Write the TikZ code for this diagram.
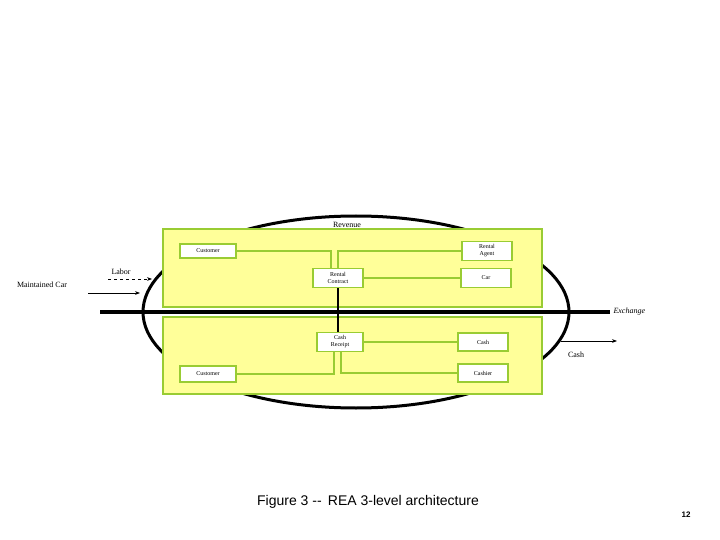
\documentclass[tikz,border=0pt]{standalone}
\usepackage{fontspec}
\setmainfont{Liberation Serif}
\newfontfamily\arialfont{Liberation Sans}
\usetikzlibrary{positioning,arrows.meta}
\definecolor{boxfill}{HTML}{FFFF99}
\definecolor{boxline}{HTML}{99CC33}
\tikzset{
    layer/.style={
        draw=boxline,
        fill=boxfill,
        line width=2.5pt
    },
    entity/.style={
        draw=boxline,
        fill=white,
        line width=1.2pt,
        align=center,
        font=\fontsize{6}{7}\selectfont,
        inner sep=1pt
    },
    link/.style={
        boxline,
        line width=1.5pt
    },
    lbl/.style={
        font=\fontsize{8}{9}\selectfont
    }
}
\begin{document}
\begin{tikzpicture}[x=1pt,y=-1pt]
            \useasboundingbox (0,0) rectangle (720,540);
            \draw[line width=3pt] (356,312) ellipse [x radius=213, y radius=96];
            \draw[layer] (163,229) rectangle (542,307);
            \draw[layer] (163,317) rectangle (542,394);
            \draw[line width=3.5pt] (100,312) coordinate (xa) -- (610,312) coordinate (xb);
            \node[lbl,font=\fontsize{8}{9}\itshape,right] (exch) at (xb) {Exchange};
            \node[lbl] (rev) at (347,225) {Revenue};
            % upper layer
            \node[entity,minimum width=56pt,minimum height=14pt] (cust1) at (208,251) {Customer};
            \node[entity,minimum width=50pt,minimum height=19pt] (agent) at (487,251) {Rental\\Agent};
            \node[entity,minimum width=50pt,minimum height=19pt] (contract) at (338,278) {Rental\\Contract};
            \node[entity,minimum width=50pt,minimum height=19pt] (car) at (486,278) {Car};
            % lower layer
            \node[entity,minimum width=46pt,minimum height=19pt] (receipt) at (340,342) {Cash\\Receipt};
            \node[entity,minimum width=50pt,minimum height=18pt] (cash) at (483,342) {Cash};
            \node[entity,minimum width=56pt,minimum height=16pt] (cust2) at (208,374) {Customer};
            \node[entity,minimum width=50pt,minimum height=18pt] (cashier) at (483,373) {Cashier};
            \draw[link] (cust1.east) -| ([xshift=-7pt]contract.north);
            \draw[link] (agent.west) -| (contract.north);
            \draw[link] (contract.east) -- (car.west);
            \draw[line width=1.5pt] (contract.south) -- (receipt.north -| contract.south);
            \draw[link] (receipt.east) -- (cash.west);
            \draw[link] ([xshift=-6pt]receipt.south) |- (cust2.east);
            \draw[link] ([xshift=1pt]receipt.south) |- (cashier.west);
            % flows
            \coordinate (lab0) at (108,279);
            \coordinate (lab1) at (152,279);
            \draw[dashed,line width=1pt,-{Stealth[length=5pt]}] (lab0) -- (lab1);
            \node[lbl,above=1pt of lab0,anchor=south west] (labor) {Labor};
            \coordinate (mc0) at (88,293);
            \coordinate (mc1) at (140,293);
            \draw[line width=1pt,-{Stealth[length=5pt]}] (mc0) -- (mc1);
            \node[lbl] (mcar) at (42,285) {Maintained Car};
            \coordinate (c0) at (561,341);
            \coordinate (c1) at (617,341);
            \draw[line width=1pt,-{Stealth[length=5pt]}] (c0) -- (c1);
            \node[lbl] (cashlbl) at (576,355) {Cash};
            \node[font=\arialfont\fontsize{14}{16}\selectfont] (title) at (368,502) {Figure 3 --\, REA 3-level architecture};
            \node[font=\arialfont\bfseries\fontsize{8}{9}\selectfont] (page) at (686,515) {12};
\end{tikzpicture}
\end{document}
